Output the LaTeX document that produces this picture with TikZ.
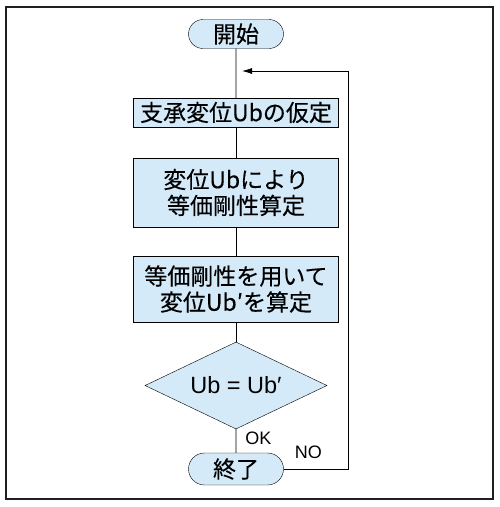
\documentclass[tikz,border=0pt]{standalone}
\usepackage{fontspec}
\setmainfont{Liberation Sans}
\newfontfamily\jpfont{Noto Sans CJK JP}[UprightFeatures={FakeBold=0.2}]
\usetikzlibrary{positioning,shapes.geometric,shapes.misc,arrows.meta}
\definecolor{boxblue}{RGB}{212,234,248}
\definecolor{framegray}{RGB}{35,31,32}

\begin{document}
\begin{tikzpicture}[x=1pt, y=1pt, node distance=80pt,
    term/.style={rounded rectangle, draw, fill=boxblue, minimum width=97pt, minimum height=29pt, inner sep=1pt, font=\jpfont\fontsize{23}{26}\selectfont},
    proc/.style={rectangle, draw, fill=boxblue, minimum width=205pt, minimum height=29pt, inner sep=1pt, align=center, font=\jpfont\fontsize{23}{26}\selectfont},
    test/.style={diamond, aspect=2, draw, fill=boxblue, minimum width=182pt, minimum height=87pt, inner sep=0pt, font=\fontsize{23.5}{26}\selectfont},
    lbl/.style={inner sep=1pt, font=\fontsize{18}{20}\selectfont},
    line/.style={draw, line width=0.8pt}]
    \useasboundingbox (0,0) rectangle (499,-507);
    \draw [line width=2.6pt, framegray] (6,-7) rectangle (493,-499);

    \node [term] (start) at (236,-34) {開始};
    \node [proc, below of=start, node distance=78.5pt] (assume) {支承変位Ubの仮定};
    \node [proc, below of=assume, node distance=80pt, minimum height=69pt] (stiff) {変位Ubにより\\等価剛性算定};
    \node [proc, below of=stiff, node distance=96.5pt, minimum height=66pt] (calc) {等価剛性を用いて\\変位Ub′を算定};
    \node [test, below of=calc, node distance=96.5pt] (check) {Ub = Ub′};
    \node [term, below of=check, node distance=83.5pt, minimum height=32pt] (stop) {終了};

    \coordinate (merge) at (242,-71);
    \coordinate (corner) at (348,-71);

    \draw [line] (start) -- (assume);
    \draw [line] (assume) -- (stiff);
    \draw [line] (stiff) -- (calc);
    \draw [line] (calc) -- (check);
    \draw [line] (check) -- node [lbl, right=8pt, pos=0.375] (ok) {OK} (stop);
    \draw [line] (stop.east) -| (corner);
    \draw [line, -{Latex[length=10pt,width=6pt]}] (corner) -- (merge);
    \node [lbl, above right=9pt and 10pt of stop.east] (no) {NO};
\end{tikzpicture}
\end{document}
